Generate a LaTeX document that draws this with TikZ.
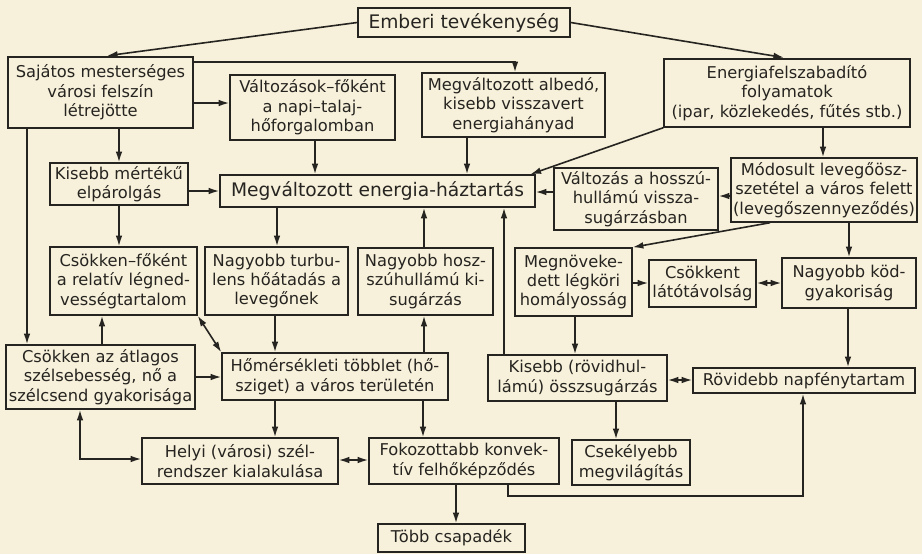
\documentclass[tikz,border=0pt]{standalone}
\usepackage{fontspec}
\setmainfont{DejaVu Sans}
\usetikzlibrary{arrows.meta}
\definecolor{bg}{HTML}{F7F0DA}
\definecolor{ink}{HTML}{262420}
\newcommand\mkbox[7][]{%
  \pgfmathsetmacro\bcx{(#3+#5)/2}%
  \pgfmathsetmacro\bcy{(#4+#6)/2}%
  \pgfmathsetmacro\bw{(#5-#3)*0.75}%
  \pgfmathsetmacro\bh{(#6-#4)*0.75}%
  \node[box,minimum width=\bw pt,minimum height=\bh pt,#1] (#2) at (\bcx,\bcy) {#7};}
\begin{document}
\begin{tikzpicture}[x=0.75pt,y=-0.75pt,
  box/.style={draw=ink,line width=1.1pt,align=center,inner sep=0pt,text=ink,
    font=\fontsize{12.2}{14.6}\selectfont},
  big/.style={font=\fontsize{14}{16}\selectfont},
  tip/.tip={Latex[length=8pt,width=5pt]},
  arr/.style={draw=ink,line width=1.2pt,-tip},
  dbl/.style={draw=ink,line width=1.2pt,tip-tip}]
\fill[bg] (0,0) rectangle (922,554);
\useasboundingbox (0,0) rectangle (922,554);

\mkbox[big]{emb}{358}{8}{570}{37}{Emberi tevékenység}
\mkbox{saj}{8}{57}{193}{128}{Sajátos mesterséges\\városi felszín\\létrejötte}
\mkbox{valt}{230}{75}{395}{140}{Változások–főként\\a napi–talaj-\\hőforgalomban}
\mkbox{alb}{422}{73}{605}{137}{Megváltozott albedó,\\kisebb visszavert\\energiahányad}
\mkbox{en}{664}{59}{910}{127}{Energiafelszabadító\\folyamatok\\(ipar, közlekedés, fűtés stb.)}
\mkbox{kis}{50}{163}{188}{205}{Kisebb mértékű\\elpárolgás}
\mkbox[big]{meg}{220}{175}{535}{207}{Megváltozott energia-háztartás}
\mkbox{vh}{554}{168}{718}{230}{Változás a hosszú-\\hullámú vissza-\\sugárzásban}
\mkbox{mod}{731}{158}{917}{222}{Módosult levegőösz-\\szetétel a város felett\\(levegőszennyeződés)}
\mkbox{csf}{50}{247}{197}{315}{Csökken–főként\\a relatív légned-\\vességtartalom}
\mkbox{turb}{205}{247}{348}{315}{Nagyobb turbu-\\lens hőátadás a\\levegőnek}
\mkbox{kisug}{358}{248}{493}{315}{Nagyobb hosz-\\szúhullámú ki-\\sugárzás}
\mkbox{hom}{515}{248}{632}{316}{Megnöveke-\\dett légköri\\homályosság}
\mkbox{lat}{649}{260}{756}{307}{Csökkent\\látótávolság}
\mkbox{kod}{782}{258}{916}{308}{Nagyobb köd-\\gyakoriság}
\mkbox{csa}{6}{345}{195}{409}{Csökken az átlagos\\szélsebesség, nő a\\szélcsend gyakorisága}
\mkbox{hot}{222}{353}{448}{400}{Hőmérsékleti többlet (hő-\\sziget) a város területén}
\mkbox{rov}{488}{355}{667}{401}{Kisebb (rövidhul-\\lámú) összsugárzás}
\mkbox{nap}{693}{368}{915}{393}{Rövidebb napfénytartam}
\mkbox{hel}{142}{438}{338}{484}{Helyi (városi) szél-\\rendszer kialakulása}
\mkbox{fok}{369}{438}{559}{484}{Fokozottabb konvek-\\tív felhőképződés}
\mkbox{cse}{572}{440}{690}{485}{Csekélyebb\\megvilágítás}
\mkbox{tob}{378}{524}{525}{552}{Több csapadék}

% connectors
\draw[arr,shorten >=3pt] (emb.west) -- (saj.north -| 103,0);
\draw[arr,shorten >=3pt] (emb.east) -- (en.north -| 788,0);
\draw[arr] (saj.east |- 0,62) -| (alb.north -| 515,0);
\draw[arr] (saj.east |- 0,103) -- (valt.west |- 0,103);
\draw[arr] (saj.south -| 119,0) -- (kis.north);
\draw[arr] (saj.south -| 27,0) -- (csa.north -| 27,0);
\draw[arr] (valt.south -| 315,0) -- (meg.north -| 315,0);
\draw[arr] (alb.south -| 467,0) -- (meg.north -| 467,0);
\draw[arr] (en.south west) -- ([xshift=-4pt]meg.north east);
\draw[arr] (en.south -| 823,0) -- (mod.north -| 823,0);
\draw[arr] (mod.west |- 0,196) -- (vh.east |- 0,196);
\draw[arr] (vh.west |- 0,192) -- (meg.east |- 0,192);
\draw[arr] (kis.east |- 0,191) -- (meg.west |- 0,191);
\draw[arr] (kis.south) -- (kis.south |- csf.north);
\draw[arr] (meg.south -| 277,0) -- (turb.north -| 277,0);
\draw[arr] (kisug.north -| 424,0) -- (meg.south -| 424,0);
\draw[arr] (rov.north -| 504,0) -- (meg.south -| 504,0);
\draw[arr] (mod.south -| 770,0) -- (hom.north east);
\draw[arr] (mod.south -| 849,0) -- (kod.north -| 849,0);
\draw[arr] (hom.east |- 0,283) -- (lat.west |- 0,283);
\draw[dbl] (lat.east |- 0,283) -- (kod.west |- 0,283);
\draw[arr] (kod.south -| 848,0) -- (nap.north -| 848,0);
\draw[arr] (hom.south -| 575,0) -- (rov.north -| 575,0);
\draw[dbl] (rov.east |- 0,380) -- (nap.west |- 0,380);
\draw[arr] (rov.south -| 616,0) -- (cse.north -| 616,0);
\draw[arr] (fok.south -| 508,0) -- ++(0,11) -| (nap.south -| 803,0);
\draw[arr] (turb.south -| 275,0) -- (hot.north -| 275,0);
\draw[dbl] (csf.south east) -- (hot.north west);
\draw[arr] (csa.north -| 102,0) -- (csf.south -| 102,0);
\draw[arr] (csa.east |- 0,377) -- (hot.west |- 0,377);
\draw[arr] (hot.north -| 424,0) -- (kisug.south -| 424,0);
\draw[arr] (hot.south -| 275,0) -- (hel.north -| 275,0);
\draw[arr] (hot.south -| 423,0) -- (fok.north -| 423,0);
\draw[dbl] (hel.east |- 0,460) -- (fok.west |- 0,460);
\draw[dbl] (csa.south -| 80,0) |- (hel.west |- 0,459);
\draw[arr] (fok.south -| 456,0) -- (tob.north -| 456,0);
\end{tikzpicture}
\end{document}
